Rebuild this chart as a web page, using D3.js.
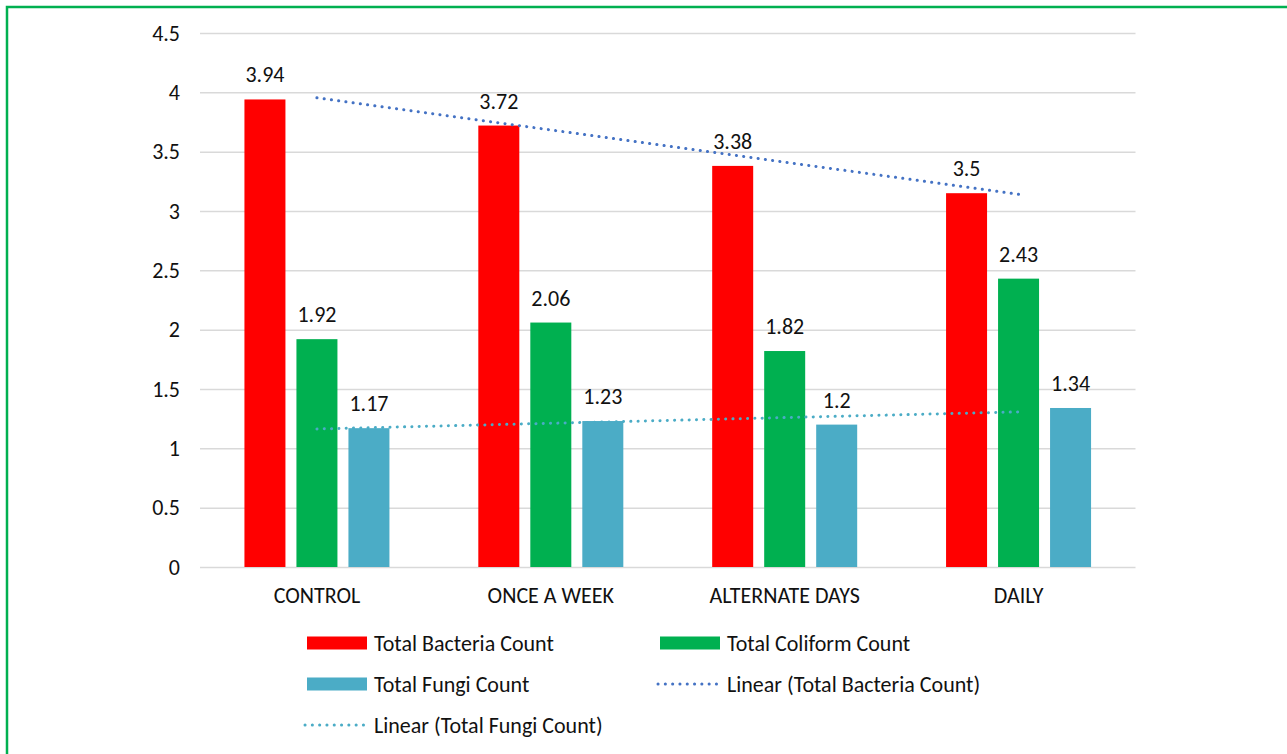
<!DOCTYPE html>
<html>
<head>
<meta charset="utf-8">
<script src="https://cdn.jsdelivr.net/npm/d3@7"></script>
<style>
  body { margin: 0; background: #fff; }
  svg text { font-family: Carlito, Calibri, Lato, sans-serif; fill: #111; }
  .grid line { stroke: #d9d9d9; stroke-width: 1.5; }
  .grid .domain { display: none; }
</style>
</head>
<body>
<svg width="1287" height="754"></svg>
<script>
var categories = ["CONTROL", "ONCE A WEEK", "ALTERNATE DAYS", "DAILY"];
var seriesNames = ["Total Bacteria Count", "Total Coliform Count", "Total Fungi Count"];
var bacteria = [3.94, 3.72, 3.38, 3.15];
var coliform = [1.92, 2.06, 1.82, 2.43];
var fungi = [1.17, 1.23, 1.2, 1.34];
// labels as printed on the chart (the last red one says 3.5)
var bacteriaLabels = ["3.94", "3.72", "3.38", "3.5"];
var coliformLabels = ["1.92", "2.06", "1.82", "2.43"];
var fungiLabels = ["1.17", "1.23", "1.2", "1.34"];
var yTicks = [0, 0.5, 1, 1.5, 2, 2.5, 3, 3.5, 4, 4.5];
var legendNames = ["Total Bacteria Count", "Total Coliform Count", "Total Fungi Count",
                   "Linear (Total Bacteria Count)", "Linear (Total Fungi Count)"];

var colors = ["#ff0000", "#00b050", "#4bacc6"];
var trendColors = ["#4472c4", "#4bacc6"];
var fontSize = "22px";

var svg = d3.select("svg");

// green frame
svg.append("rect")
.attr("x", 7).attr("y", 7)
.attr("width", 1300).attr("height", 800)
.attr("fill", "none")
.attr("stroke", "#00b050")
.attr("stroke-width", 2.5);

var plotLeft = 200, plotRight = 1135.5, plotTop = 33, plotBottom = 567;

var x = d3.scaleBand().domain(categories).range([plotLeft, plotRight]);
var inner = d3.scaleBand().domain(seriesNames).range([0, 145]).paddingInner(0.2115);
var y = d3.scaleLinear().domain([0, 4.5]).range([plotBottom, plotTop]);

svg.append("g")
.attr("class", "grid")
.attr("transform", "translate(" + plotLeft + ",0)")
.call(d3.axisLeft(y).tickValues(yTicks).tickSize(-(plotRight - plotLeft)).tickPadding(20).tickFormat(d3.format("")))
.call(function (g) {
	g.selectAll("text").attr("font-size", fontSize).attr("fill", "#111").attr("font-family", null);
});

svg.append("g")
.attr("class", "grid")
.attr("transform", "translate(0," + plotBottom + ")")
.call(d3.axisBottom(x).tickSize(0).tickPadding(20))
.call(function (g) {
	g.selectAll("text").attr("font-size", fontSize).attr("fill", "#111").attr("font-family", null);
});

var allValues = [bacteria, coliform, fungi];
var allLabels = [bacteriaLabels, coliformLabels, fungiLabels];

allValues.forEach(function (vals, s) {
	var gx = function (i) { return x(categories[i]) + x.bandwidth() / 2 - 72.5 + inner(seriesNames[s]); };

	svg.append("g").selectAll("rect")
	.data(vals).join("rect")
	.attr("x", function (d, i) { return gx(i); })
	.attr("y", function (d) { return y(d); })
	.attr("width", inner.bandwidth())
	.attr("height", function (d) { return y(0) - y(d); })
	.attr("fill", colors[s]);

	svg.append("g").selectAll("text")
	.data(vals).join("text")
	.attr("x", function (d, i) { return gx(i) + inner.bandwidth() / 2; })
	.attr("y", function (d) { return y(d) - 17; })
	.attr("text-anchor", "middle")
	.attr("font-size", fontSize)
	.text(function (d, i) { return allLabels[s][i]; });
});

// linear trendlines (least squares on category index)
function fit(vals) {
	var n = vals.length, xs = d3.range(1, n + 1);
	var mx = d3.mean(xs), my = d3.mean(vals);
	var b = d3.sum(xs, function (v, i) { return (v - mx) * (vals[i] - my); }) /
	        d3.sum(xs, function (v) { return (v - mx) * (v - mx); });
	return function (k) { return my + b * (k - mx); };
}

[bacteria, fungi].forEach(function (vals, t) {
	var f = fit(vals);
	svg.append("line")
	.attr("x1", x(categories[0]) + x.bandwidth() / 2)
	.attr("y1", y(f(1)))
	.attr("x2", x(categories[categories.length - 1]) + x.bandwidth() / 2)
	.attr("y2", y(f(categories.length)))
	.attr("stroke", trendColors[t])
	.attr("stroke-width", 3)
	.attr("stroke-linecap", "round")
	.attr("stroke-dasharray", "0.1 7.2");
});

// legend
var legendPos = [[307, 643], [660, 643], [307, 684], [660, 684], [307, 725]];
legendNames.forEach(function (name, i) {
	var p = legendPos[i];
	if (i < 3) {
		svg.append("rect")
		.attr("x", p[0]).attr("y", p[1] - 6.5)
		.attr("width", 60).attr("height", 13)
		.attr("fill", colors[i]);
	} else {
		svg.append("line")
		.attr("x1", p[0] - 2).attr("x2", p[0] + 58)
		.attr("y1", p[1]).attr("y2", p[1])
		.attr("stroke", trendColors[i - 3])
		.attr("stroke-width", 3)
		.attr("stroke-linecap", "round")
		.attr("stroke-dasharray", "0.1 7.2");
	}
	svg.append("text")
	.attr("x", p[0] + 67)
	.attr("y", p[1])
	.attr("dy", "0.35em")
	.attr("font-size", fontSize)
	.text(name);
});
</script>
</body>
</html>
